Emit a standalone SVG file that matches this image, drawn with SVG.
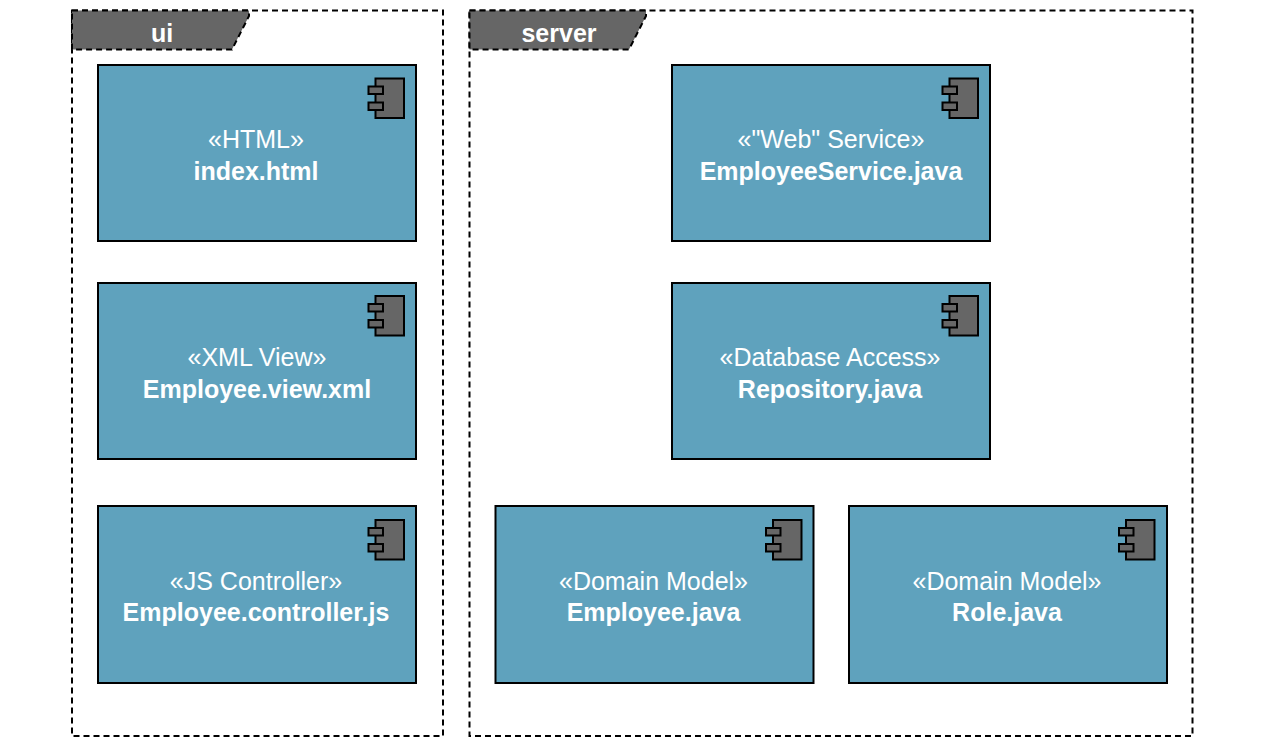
<svg xmlns="http://www.w3.org/2000/svg" width="1267" height="742" viewBox="0 0 1267 742">
<style>
.frame{fill:none;stroke:#000;stroke-width:2;stroke-dasharray:6 4}
.tab{fill:#666;stroke:#000;stroke-width:2;stroke-dasharray:6 4}
.tt{font:bold 25px "Liberation Sans",Arial,sans-serif;fill:#fff;text-anchor:middle}
.box{fill:#5fa2bd;stroke:#000;stroke-width:2}
.st{font:25px "Liberation Sans",Arial,sans-serif;fill:#fff;text-anchor:middle}
.nm{font:bold 25px "Liberation Sans",Arial,sans-serif;fill:#fff;text-anchor:middle}
.ic{fill:#666;stroke:#000;stroke-width:2}
</style>
<defs>
<g id="icon">
<rect class="ic" x="7" y="0" width="28.500" height="39.500"/>
<rect class="ic" x="0" y="8" width="14.500" height="7.500"/>
<rect class="ic" x="0" y="24" width="14.500" height="7.500"/>
</g>
</defs>
<g id="ui">
<rect class="frame" x="72" y="10.500" width="371" height="725.500"/>
<path class="tab" d="M72 10.500H249V16L232 49.500H72Z"/>
<text class="tt" x="162" y="41.500">ui</text>
</g>
<g id="server">
<rect class="frame" x="469.500" y="10.500" width="723" height="725.500"/>
<path class="tab" d="M469.500 10.500H646V16L629 49.500H469.500Z"/>
<text class="tt" x="559" y="41.500">server</text>
</g>
<g id="index">
<rect class="box" x="98" y="65" width="318" height="176"/>
<use href="#icon" x="368.500" y="78.500"/>
<text class="st" x="256" y="147.500">«HTML»</text>
<text class="nm" x="256" y="179.500">index.html</text>
</g>
<g id="view">
<rect class="box" x="98" y="283" width="318" height="176"/>
<use href="#icon" x="368.500" y="296"/>
<text class="st" x="257" y="365.500">«XML View»</text>
<text class="nm" x="257" y="397.500">Employee.view.xml</text>
</g>
<g id="controller">
<rect class="box" x="98" y="506" width="318" height="177"/>
<use href="#icon" x="368.500" y="520"/>
<text class="st" x="256" y="589.500">«JS Controller»</text>
<text class="nm" x="256" y="620.500">Employee.controller.js</text>
</g>
<g id="service">
<rect class="box" x="672" y="65" width="318" height="176"/>
<use href="#icon" x="942.500" y="78.500"/>
<text class="st" x="831" y="147.500">«"Web" Service»</text>
<text class="nm" x="831" y="179.500">EmployeeService.java</text>
</g>
<g id="repository">
<rect class="box" x="672" y="283" width="318" height="176"/>
<use href="#icon" x="942.500" y="296"/>
<text class="st" x="830" y="365.500">«Database Access»</text>
<text class="nm" x="830" y="397.500">Repository.java</text>
</g>
<g id="employee">
<rect class="box" x="495.500" y="506" width="318" height="177"/>
<use href="#icon" x="766" y="520"/>
<text class="st" x="653.500" y="589.500">«Domain Model»</text>
<text class="nm" x="653.500" y="620.500">Employee.java</text>
</g>
<g id="role">
<rect class="box" x="849" y="506" width="318" height="177"/>
<use href="#icon" x="1119" y="520"/>
<text class="st" x="1007" y="589.500">«Domain Model»</text>
<text class="nm" x="1007" y="620.500">Role.java</text>
</g>
<g id="connectors"></g>
</svg>
